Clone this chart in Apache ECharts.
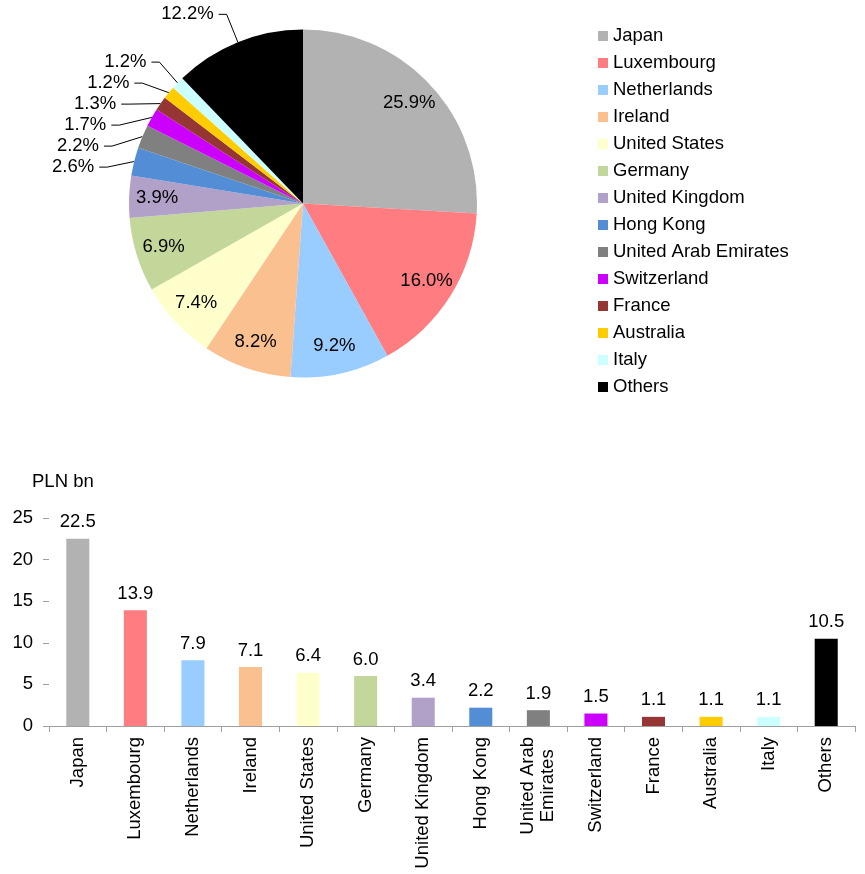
<!DOCTYPE html>
<html><head><meta charset="utf-8">
<script src="https://cdn.jsdelivr.net/npm/echarts@6/dist/echarts.min.js"></script>
<style>html,body{margin:0;padding:0;background:#fff}#c{width:865px;height:874px}</style>
</head><body><div id="c"></div>
<script>
const categories = ['Japan','Luxembourg','Netherlands','Ireland','United States','Germany','United Kingdom','Hong Kong','United Arab Emirates','Switzerland','France','Australia','Italy','Others'];
const barLabels = ['Japan','Luxembourg','Netherlands','Ireland','United States','Germany','United Kingdom','Hong Kong','United Arab\nEmirates','Switzerland','France','Australia','Italy','Others'];
const pieShares = [25.9,16.0,9.2,8.2,7.4,6.9,3.9,2.6,2.2,1.7,1.3,1.2,1.2,12.2];
const barValues = [22.5,13.9,7.9,7.1,6.4,6.0,3.4,2.2,1.9,1.5,1.1,1.1,1.1,10.5];
const colors = ['#b2b2b2','#ff7c80','#99ccff','#fac090','#ffffcc','#c4d79b','#b1a0c7','#538dd5','#808080','#cc00ff','#963634','#ffcc00','#ccffff','#000000'];
const yAxisMin = 0, yAxisMax = 25, yAxisStep = 5;
const unitLabel = 'PLN bn';

const FONT = "'Liberation Sans', Arial, sans-serif";
const FS = 18.5;
const INSIDE_MIN = 3.5;
const isInside = i => pieShares[i] >= INSIDE_MIN && colors[i] !== '#000000';

const chart = echarts.init(document.getElementById('c'), null, {renderer: 'canvas'});

const pieMain = categories.map((n, i) => ({
  name: n, value: pieShares[i],
  itemStyle: {color: colors[i]},
  label: {show: !isInside(i)},
  labelLine: {show: !isInside(i)}
}));
const pieOverlay = categories.map((n, i) => ({
  name: n, value: pieShares[i],
  label: {show: isInside(i)}
}));

chart.setOption({
  animation: false,
  textStyle: {fontFamily: FONT},
  title: {text: unitLabel, left: 32, top: 472, padding: 0, textStyle: {fontFamily: FONT, fontSize: FS, fontWeight: 'normal', color: '#000'}},
  legend: {
    orient: 'vertical', left: 598, top: 26, padding: 0,
    data: categories, icon: 'rect', itemWidth: 10, itemHeight: 10, itemGap: 7,
    textStyle: {fontFamily: FONT, fontSize: FS, color: '#000', lineHeight: 20},
    selectedMode: false
  },
  grid: {left: 49, right: 10, top: 518, bottom: 148},
  xAxis: {
    type: 'category', data: barLabels,
    axisLine: {lineStyle: {color: '#a0a0a0'}},
    axisTick: {show: true, interval: 0, length: 6, lineStyle: {color: '#a0a0a0'}},
    axisLabel: {interval: 0, rotate: 90, margin: 11, color: '#000', fontFamily: FONT, fontSize: FS,
      formatter: v => v.split('\n').map(s => '{c|' + s + '}').join('\n'),
      rich: {c: {align: 'center', fontFamily: FONT, fontSize: FS, color: '#000', lineHeight: 20}}}
  },
  yAxis: {
    type: 'value', min: yAxisMin, max: yAxisMax, interval: yAxisStep,
    axisLine: {show: false},
    axisTick: {show: true, length: 6, lineStyle: {color: '#a0a0a0'}},
    splitLine: {show: false},
    axisLabel: {margin: 16, color: '#000', fontFamily: FONT, fontSize: FS}
  },
  series: [
    {
      type: 'bar', barWidth: '40%',
      data: barValues.map((v, i) => ({value: v, itemStyle: {color: colors[i]}})),
      label: {show: true, position: 'top', distance: 7, color: '#000', fontFamily: FONT, fontSize: FS,
        formatter: p => p.value.toFixed(1)}
    },
    {
      type: 'pie', center: [303, 203.5], radius: [0, 174], startAngle: 90, clockwise: true,
      data: pieMain, silent: true, avoidLabelOverlap: true,
      label: {position: 'outside', color: '#000', fontFamily: FONT, fontSize: FS,
        formatter: p => p.value.toFixed(1) + '%'},
      labelLine: {length: 30, length2: 8, lineStyle: {color: '#000', width: 1}},
      emphasis: {disabled: true}
    },
    {
      type: 'pie', center: [303, 203.5], radius: [112, 174], startAngle: 90, clockwise: true,
      data: pieOverlay, silent: true,
      itemStyle: {color: 'rgba(0,0,0,0)'},
      label: {position: 'inside', color: '#000', fontFamily: FONT, fontSize: FS,
        formatter: p => p.value.toFixed(1) + '%'},
      labelLine: {show: false},
      emphasis: {disabled: true}
    }
  ]
});
</script>
</body></html>
